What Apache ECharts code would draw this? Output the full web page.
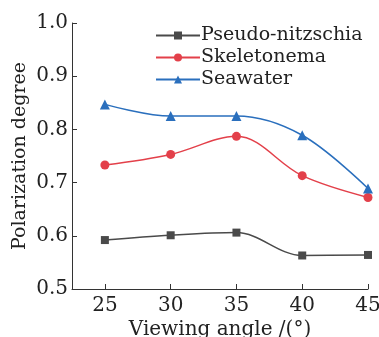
<!DOCTYPE html>
<html>
<head>
<meta charset="utf-8">
<script src="https://cdn.jsdelivr.net/npm/echarts@6/dist/echarts.min.js"></script>
<style>
  html, body { margin: 0; padding: 0; background: #fff; }
  #chart { width: 379px; height: 337px; }
</style>
</head>
<body>
<div id="chart"></div>
<script>
// viewing angles (deg)
const angles = [25, 30, 35, 40, 45];
const pseudoNitzschia = [0.592, 0.601, 0.606, 0.563, 0.564];
const skeletonema = [0.733, 0.753, 0.787, 0.713, 0.672];
const seawater = [0.847, 0.825, 0.825, 0.789, 0.689];

const FONT = 'DejaVu Serif';
const axisLine = { show: true, lineStyle: { color: '#333', width: 1 } };

function pairs(values) {
    return angles.map((a, i) => [a, values[i]]);
}

function makeSeries(name, values, color, symbol, size) {
    return {
        name: name,
        type: 'line',
        data: pairs(values),
        smooth: 0.35,
        symbol: symbol,
        symbolSize: size,
        lineStyle: { color: color, width: 1.5 },
        itemStyle: { color: color },
        z: 3
    };
}

const chart = echarts.init(document.getElementById('chart'));
chart.setOption({
    animation: false,
    textStyle: { fontFamily: FONT },
    grid: { left: 72, right: 11, top: 23, bottom: 48, outerBoundsMode: 'none', containLabel: false },
    legend: {
        orient: 'vertical',
        left: 150,
        top: 21,
        itemWidth: 44,
        itemHeight: 10,
        itemGap: 3,
        textStyle: { fontFamily: FONT, fontSize: 19, color: '#222', padding: [0, 0, 0, -4] },
        data: ['Pseudo-nitzschia', 'Skeletonema', 'Seawater']
    },
    xAxis: {
        type: 'value',
        min: 22.5,
        max: 45,
        interval: 5,
        name: 'Viewing angle /(°)',
        nameLocation: 'middle',
        nameGap: 31,
        nameMoveOverlap: false,
        nameTextStyle: { fontFamily: FONT, fontSize: 20, color: '#222' },
        axisLine: axisLine,
        axisLabel: {
            fontFamily: FONT, fontSize: 20, color: '#222', margin: 7,
            customValues: angles
        },
        axisTick: { show: true, inside: true, length: 5, lineStyle: { color: '#333' }, customValues: angles },
        splitLine: { show: false }
    },
    yAxis: {
        type: 'value',
        min: 0.5,
        max: 1.0,
        interval: 0.1,
        name: 'Polarization degree',
        nameLocation: 'middle',
        nameGap: 42,
        nameMoveOverlap: false,
        nameTextStyle: { fontFamily: FONT, fontSize: 19, color: '#222' },
        axisLine: axisLine,
        axisTick: { show: true, inside: true, length: 5, lineStyle: { color: '#333' } },
        axisLabel: {
            fontFamily: FONT, fontSize: 20, color: '#222', margin: 4,
            formatter: v => v.toFixed(1)
        },
        splitLine: { show: false }
    },
    series: [
        makeSeries('Pseudo-nitzschia', pseudoNitzschia, '#4a4a4a', 'rect', 8),
        makeSeries('Skeletonema', skeletonema, '#e3404a', 'circle', 9),
        makeSeries('Seawater', seawater, '#2a6fbd', 'triangle', 10)
    ]
});
</script>
</body>
</html>
